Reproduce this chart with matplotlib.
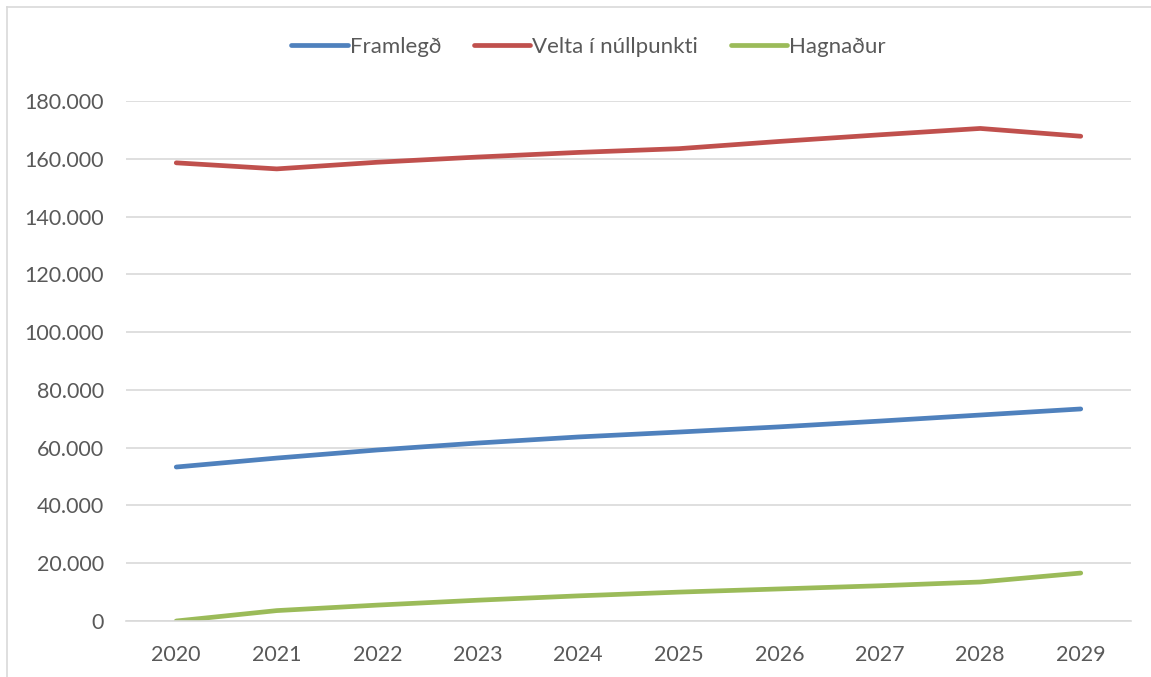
import matplotlib.pyplot as plt
from matplotlib.ticker import FuncFormatter
from matplotlib.lines import Line2D

ar = ['2020', '2021', '2022', '2023', '2024', '2025', '2026', '2027', '2028', '2029']
framlegd = [53300, 56400, 59200, 61600, 63700, 65400, 67200, 69200, 71300, 73400]
velta = [158600, 156500, 158800, 160600, 162200, 163500, 166000, 168300, 170500, 167800]
hagnadur = [0, 3600, 5500, 7200, 8700, 10000, 11100, 12200, 13500, 16600]

plt.rcParams['font.family'] = ['Lato', 'DejaVu Sans']

fig = plt.figure(figsize=(11.51, 6.77), dpi=100)
ax = fig.add_axes([126/1151, 56/677, 1005/1151, 520/677])

x = range(len(ar))
ax.plot(x, framlegd, color='#4f81bd', lw=3.4, solid_capstyle='round', label='Framlegð')
ax.plot(x, velta, color='#c0504d', lw=3.4, solid_capstyle='round', label='Velta í núllpunkti')
ax.plot(x, hagnadur, color='#9bbb59', lw=3.4, solid_capstyle='round', label='Hagnaður')

ax.set_xlim(-0.5, 9.5)
ax.set_ylim(0, 180000)
ax.set_yticks(range(0, 180001, 20000))
ax.yaxis.set_major_formatter(FuncFormatter(lambda v, p: f'{int(v):,}'.replace(',', '.')))
ax.set_xticks(list(x))
ax.set_xticklabels(ar)
ax.grid(axis='y', color='#d9d9d9', lw=1.2)
ax.set_axisbelow(True)
for s in ['top', 'right', 'left']:
    ax.spines[s].set_visible(False)
ax.spines['bottom'].set_color('#d9d9d9')
ax.spines['bottom'].set_linewidth(1.2)
ax.tick_params(axis='both', length=0, labelsize=15.5, labelcolor='#595959')
ax.tick_params(axis='y', pad=16)
ax.tick_params(axis='x', pad=17)

leg = fig.legend(loc='center', bbox_to_anchor=(0.5 + 13/1151, 1 - 47/677), ncol=3, frameon=False,
                 fontsize=16, handlelength=2.55, handletextpad=0.1, columnspacing=1.45)
for t in leg.get_texts():
    t.set_color('#595959')

# chart frame
fig.add_artist(Line2D([7/1151, 7/1151], [0, 1 - 7/677], color='#d9d9d9', lw=1.2))
fig.add_artist(Line2D([7/1151, 1], [1 - 7/677, 1 - 7/677], color='#d9d9d9', lw=1.2))

fig.savefig('out.png', dpi=100)
